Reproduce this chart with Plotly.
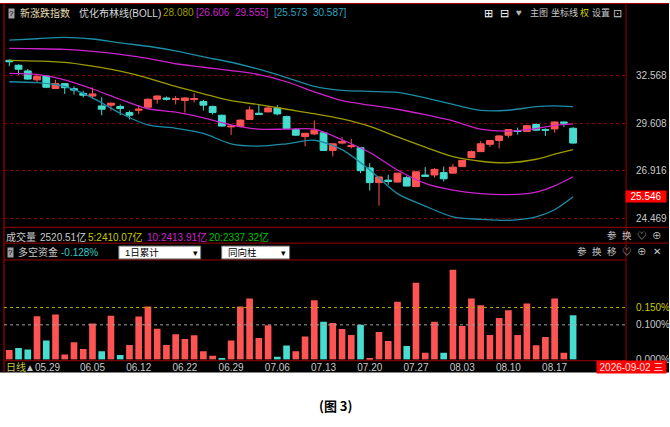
import plotly.graph_objects as go

W, H = 670, 427
def px(x): return x / W
def py(y): return 1 - y / H

# ---------------- data ----------------
opens = [33.54, 33.21, 32.84, 32.26, 32.51, 31.71, 32.02, 31.70, 31.41, 31.24,
         30.63, 30.68, 30.60, 30.23, 30.37, 30.55, 31.04, 31.12, 31.02, 30.96,
         31.02, 30.90, 30.60, 30.07, 29.38, 29.40, 29.82, 30.19, 30.27, 30.51,
         29.99, 29.23, 28.82, 28.97, 29.04, 28.04, 28.45, 28.25, 28.19, 27.08,
         26.30, 26.43, 26.33, 26.56, 26.09, 26.70, 26.70, 26.83, 26.80, 27.15,
         27.64, 27.97, 28.38, 28.60, 28.90, 29.15, 29.12, 29.52, 29.23, 29.26,
         29.67, 29.30]
highs = [33.61, 33.28, 32.97, 32.59, 32.57, 32.26, 32.06, 31.85, 31.57, 31.77,
         31.16, 30.84, 30.72, 30.35, 30.68, 31.10, 31.29, 31.21, 31.24, 31.16,
         31.41, 31.00, 30.65, 30.10, 29.51, 29.82, 30.60, 30.72, 30.63, 30.68,
         30.04, 29.30, 29.03, 29.76, 29.12, 28.41, 28.79, 28.68, 28.22, 27.34,
         26.61, 26.70, 26.81, 26.66, 26.89, 27.12, 27.08, 27.15, 27.30, 27.50,
         28.04, 28.56, 28.61, 28.89, 29.25, 29.34, 29.47, 29.60, 29.30, 29.70,
         29.70, 29.37]
lows = [33.15, 32.59, 32.26, 32.06, 31.73, 31.70, 31.37, 31.33, 31.15, 31.08,
        30.07, 30.35, 30.07, 29.82, 30.15, 30.52, 30.76, 30.96, 30.72, 30.23,
        30.84, 30.35, 30.11, 29.40, 28.91, 29.36, 29.79, 30.10, 30.25, 30.07,
        29.26, 28.86, 28.27, 28.90, 28.01, 27.71, 28.38, 28.15, 26.80, 25.89,
        25.12, 26.19, 26.31, 26.11, 26.08, 26.61, 26.56, 26.36, 26.79, 27.14,
        27.62, 27.95, 28.23, 28.15, 28.75, 28.93, 29.11, 29.16, 28.86, 29.04,
        29.38, 28.43]
closes = [33.44, 32.95, 32.31, 32.49, 31.79, 32.02, 31.76, 31.61, 31.29, 31.37,
          30.43, 30.80, 30.47, 30.07, 30.43, 31.04, 31.24, 31.04, 31.08, 31.12,
          31.08, 30.68, 30.23, 29.43, 29.43, 29.78, 30.39, 30.11, 30.51, 30.15,
          29.29, 28.90, 29.01, 29.19, 28.04, 28.41, 28.53, 28.30, 26.93, 26.30,
          26.60, 26.36, 26.80, 26.12, 26.87, 26.63, 27.00, 26.50, 27.12, 27.49,
          27.97, 28.41, 28.60, 28.86, 29.23, 29.12, 29.45, 29.19, 29.19, 29.67,
          29.60, 28.45]

# BOLL lines read at sampled bars
boll_idx = [0, 3, 6, 9, 12, 15, 18, 21, 24, 27, 30, 33, 36, 39, 42, 45, 48, 51, 54, 57, 59, 61]
boll_mid = [33.54, 33.49, 33.40, 33.15, 32.82, 32.38, 31.84, 31.38, 30.95, 30.71, 30.43,
            30.16, 29.85, 29.41, 28.80, 28.22, 27.69, 27.44, 27.36, 27.55, 27.83, 28.080]
boll_up1 = [34.34, 34.32, 34.27, 34.14, 33.94, 33.67, 33.31, 33.08, 32.86, 32.60, 32.14,
            31.50, 30.95, 30.68, 30.43, 30.10, 29.73, 29.25, 29.14, 29.28, 29.47, 29.555]
boll_dn1 = [32.68, 32.61, 32.26, 31.68, 31.04, 30.46, 30.25, 29.91, 29.50, 29.25, 29.25,
            29.25, 28.64, 27.92, 26.97, 26.26, 25.91, 25.73, 25.68, 25.81, 26.13, 26.606]
boll_up2 = [34.91, 35.01, 35.11, 34.99, 34.72, 34.49, 34.17, 33.77, 33.41, 32.95, 32.41,
            31.84, 31.59, 31.53, 31.47, 31.13, 30.73, 30.36, 30.37, 30.59, 30.64, 30.587]
boll_dn2 = [32.14, 32.08, 31.84, 31.13, 30.19, 29.50, 29.30, 29.00, 28.41, 28.28, 28.41,
            28.61, 28.08, 26.97, 25.73, 25.10, 24.57, 24.45, 24.40, 24.57, 24.92, 25.573]

# 多空资金 (%), negative drawn cyan as same-direction bars
fund = [0.027, -0.033, -0.029, 0.125, -0.055, 0.130, 0.014, 0.050, 0.030, 0.104,
        -0.024, 0.126, -0.013, 0.042, 0.124, 0.153, 0.089, 0.042, 0.073, 0.059,
        0.070, 0.024, 0.011, -0.003, 0.055, 0.153, 0.176, 0.062, 0.099, -0.008,
        -0.040, 0.024, 0.066, 0.171, -0.109, 0.105, 0.088, 0.071, -0.100, 0.002,
        0.079, 0.053, 0.167, -0.039, 0.222, 0.019, 0.109, -0.019, 0.259, 0.097,
        0.176, 0.157, 0.071, 0.120, 0.142, 0.071, 0.162, 0.041, 0.065, 0.176,
        0.019, -0.128]

date_labels = ["▲05.29", "06.05", "06.12", "06.22", "06.29", "07.06", "07.13",
               "07.20", "07.27", "08.03", "08.10", "08.17"]
date_pos = [3.6, 9, 14, 19, 24, 29, 34, 39, 44, 49, 54, 59]

price_ticks = [24.469, 26.916, 29.608, 32.568]
price_tick_text = ["24.469", "26.916", "29.608", "32.568"]
fund_ticks = [0.0, 0.100, 0.150]
fund_tick_text = ["0.000%", "0.100%", "<span style='color:#c8c800'>0.150%</span>"]

# ---------------- styles ----------------
RED = "#ff5454"
CYAN = "#46dccf"
OLIVE = "#9c9a00"
MAG = "#cc22cc"
TEAL = "#1c8ca6"
GRID = "#8b0000"
BORDER = "#9a0000"
GRAY = "#c8c8c8"
FONT = "Liberation Sans, Noto Sans CJK SC, sans-serif"

idx = list(range(len(opens)))
fig = go.Figure()
fig.add_trace(go.Candlestick(
    x=idx, open=opens, high=highs, low=lows, close=closes,
    increasing=dict(line=dict(color=RED, width=1), fillcolor=RED),
    decreasing=dict(line=dict(color=CYAN, width=1), fillcolor=CYAN),
    whiskerwidth=0, xaxis="x", yaxis="y", showlegend=False, hoverinfo="skip"))

for vals, col in [(boll_up2, TEAL), (boll_dn2, TEAL), (boll_up1, MAG), (boll_dn1, MAG), (boll_mid, OLIVE)]:
    fig.add_trace(go.Scatter(x=boll_idx, y=vals, mode="lines",
                             line=dict(color=col, width=1.3, shape="spline", smoothing=0.8),
                             xaxis="x", yaxis="y", showlegend=False, hoverinfo="skip"))

fig.add_trace(go.Bar(x=idx, y=[abs(v) for v in fund],
                     marker=dict(color=[RED if v >= 0 else CYAN for v in fund], line=dict(width=0)),
                     width=0.72, xaxis="x2", yaxis="y2", showlegend=False, hoverinfo="skip"))

xr = [-0.573, 66.73]
fig.update_layout(
    width=W, height=H, margin=dict(l=0, r=0, t=0, b=0),
    paper_bgcolor="white", plot_bgcolor="black", showlegend=False,
    boxgap=0.26, boxgroupgap=0,
    xaxis=dict(domain=[px(4), px(627)], range=xr, visible=False, anchor="y",
               rangeslider=dict(visible=False), fixedrange=True),
    yaxis=dict(domain=[py(230), py(22)], type="log", range=[1.38136, 1.55886],
               side="right", anchor="x", tickvals=price_ticks, ticktext=price_tick_text,
               tickfont=dict(family=FONT, size=10, color=GRAY), ticks="",
               ticklabelstandoff=9,
               showgrid=True, gridcolor=GRID, griddash="dot", gridwidth=1,
               zeroline=False, showline=False),
    xaxis2=dict(domain=[px(4), px(627)], range=xr, anchor="y2", tickvals=date_pos,
                ticktext=date_labels, tickfont=dict(family=FONT, size=10, color=GRAY),
                ticks="", showgrid=False, zeroline=False, showline=False),
    yaxis2=dict(domain=[py(364), py(263)], range=[-0.00086, 0.2877], side="right",
                anchor="x2", tickvals=fund_ticks, ticktext=fund_tick_text, ticks="",
                ticklabelstandoff=9,
                tickfont=dict(family=FONT, size=10, color=GRAY),
                showgrid=False, zeroline=False, showline=False),
)

shapes = [
    dict(type="rect", xref="paper", yref="paper", x0=0, x1=1, y0=py(377), y1=py(3),
         fillcolor="black", line=dict(width=0), layer="below"),
]
def hline(y, x0, x1, color=BORDER, dash="solid"):
    shapes.append(dict(type="line", xref="paper", yref="paper", x0=px(x0), x1=px(x1),
                       y0=py(y), y1=py(y), line=dict(color=color, width=1, dash=dash)))
def vline(x, y0, y1, color=BORDER):
    shapes.append(dict(type="line", xref="paper", yref="paper", x0=px(x), x1=px(x),
                       y0=py(y0), y1=py(y1), line=dict(color=color, width=1)))
hline(3.5, 0, 670, "#b00000")
hline(230, 4, 670)
hline(246, 4, 670)
hline(263, 4, 627)
hline(365, 4, 627)
vline(4, 3, 377, "#c00000")
vline(627, 3, 365)
# reference lines of the fund panel
for val, col in [(0.150, "#b0b000"), (0.100, "#a0a0a0")]:
    shapes.append(dict(type="line", xref="paper", yref="y2", x0=px(4), x1=px(627),
                       y0=val, y1=val, line=dict(color=col, width=1, dash="dot")))
# dropdown boxes
for x0, x1 in [(119, 201), (222, 290)]:
    shapes.append(dict(type="rect", xref="paper", yref="paper", x0=px(x0), x1=px(x1),
                       y0=py(262), y1=py(249), fillcolor="white",
                       line=dict(color="#707070", width=1)))
fig.update_layout(shapes=shapes)

ann = []
def txt(x, y, s, color=GRAY, size=10, anchor="left", **kw):
    ann.append(dict(x=px(x), y=py(y), xref="paper", yref="paper", text=s, showarrow=False,
                    xanchor=anchor, yanchor="middle",
                    font=dict(family=kw.pop("family", FONT), size=size, color=color), **kw))

# header row
txt(12, 13.5, "?", "black", 8, "center", bgcolor="#a0a0a0", borderpad=0)
txt(18, 13, "新涨跌指数", "#e6dcae", 10)
txt(77, 13, "优化布林线(BOLL)", "#d8d8d8", 10)
txt(161, 13, "28.080", OLIVE, 10)
txt(194, 13, "[26.606  29.555]", MAG, 10)
txt(272, 13, "[25.573  30.587]", "#2aa6c0", 10)
txt(489.5, 12.7, "⊞", "white", 11, "center")
txt(505, 12.7, "⊟", "white", 11, "center")
txt(520, 12.7, "♥", "#b0b0b0", 10, "center")
txt(528.5, 12.7, "主图", GRAY, 9)
txt(549.5, 12.7, "坐标线", GRAY, 9)
txt(578.5, 12.7, "权", "#d8d800", 9)
txt(590.5, 12.7, "设置", GRAY, 9)
txt(618.5, 12.7, "⊡", GRAY, 11, "center")

# volume header row
txt(4, 239.5, "成交量", GRAY, 10)
txt(38, 239.5, "2520.51亿", GRAY, 10)
txt(86, 239.5, "5:2410.07亿", "#c8c800", 10)
txt(145, 239.5, "10:2413.91亿", "#d020d0", 10)
txt(207, 239.5, "20:2337.32亿", "#00c000", 10)
for x, s in [(613, "参"), (627.5, "换"), (643, "♡"), (658, "⊕")]:
    txt(x, 238.5, s, GRAY, 9.5, "center")

# fund header row
txt(10.5, 255, "?", "black", 8, "center", bgcolor="#a0a0a0", borderpad=0)
txt(16, 255, "多空资金", GRAY, 10)
txt(59, 255, "-0.128%", "#30c8c0", 10)
txt(123, 255.5, "1日累计", "black", 9.5)
txt(196, 255.5, "▾", "black", 9, "center")
txt(226, 255.5, "同向柱", "black", 9.5)
txt(284, 255.5, "▾", "black", 9, "center")
for x, s in [(583, "参"), (597.5, "换"), (612.5, "移"), (628, "♡"), (643, "⊕"), (658, "✕")]:
    txt(x, 254.5, s, GRAY, 9.5, "center")

# bottom row
txt(4, 371, "日线", "#c8c840", 10)
ann.append(dict(x=px(632.5), y=py(371), xref="paper", yref="paper", text="2026-09-02 三",
                showarrow=False, xanchor="center", yanchor="middle", width=69, height=12,
                bgcolor="#ff0000", borderpad=0,
                font=dict(family=FONT, size=10, color="#ffe0e0")))
ann.append(dict(x=px(647), y=py(199), xref="paper", yref="paper", text="25.546",
                showarrow=False, xanchor="center", yanchor="middle", width=40, height=11,
                bgcolor="#ff0000", borderpad=0,
                font=dict(family=FONT, size=10, color="white")))
# caption
ann.append(dict(x=px(336), y=py(410), xref="paper", yref="paper", text="<b>(图 3)</b>",
                showarrow=False, xanchor="center", yanchor="middle",
                font=dict(family="Noto Sans CJK SC, serif", size=13, color="black")))
fig.update_layout(annotations=ann)

fig.write_html("out.html", config={"displayModeBar": False},
               post_script="document.body.style.margin='0px';document.body.style.overflow='hidden';")
